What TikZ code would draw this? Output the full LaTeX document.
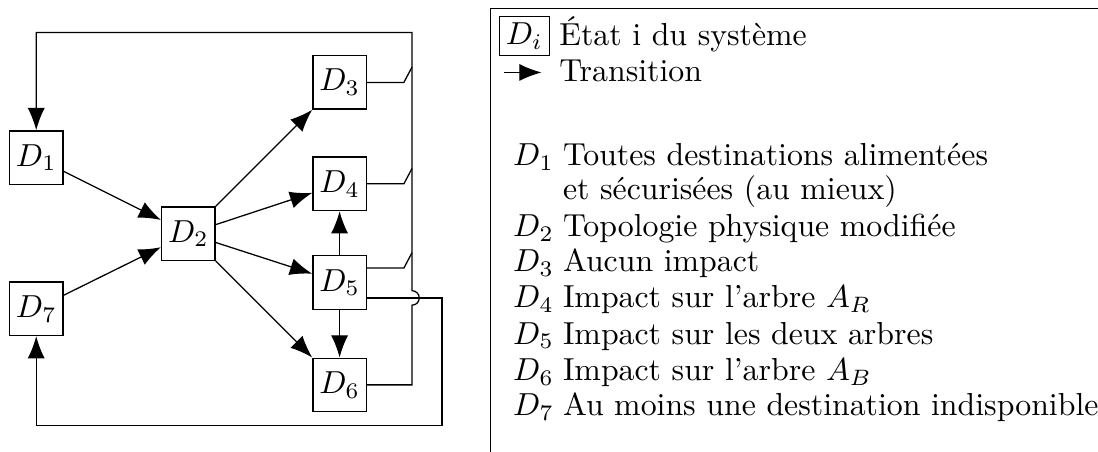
\documentclass[tikz,border=0pt]{standalone}
\usepackage{fontspec}
\usetikzlibrary{arrows.meta}

\begin{document}
\begin{tikzpicture}[
	state/.style={draw, minimum size=0.59cm, inner sep=1pt},
	trans/.style={-{Latex[length=7pt,width=5.4pt]}},
	keytext/.style={anchor=base west, inner sep=0pt}
]
\useasboundingbox (0,0) rectangle (12.125,-4.991);

%states
\node[state] (d1) at (0.40,-1.74) {$D_1$};
\node[state] (d2) at (2.08,-2.58) {$D_2$};
\node[state] (d7) at (0.40,-3.41) {$D_7$};
\node[state] (d3) at (3.75,-0.91) {$D_3$};
\node[state] (d4) at (3.75,-2.03) {$D_4$};
\node[state] (d5) at (3.75,-3.12) {$D_5$};
\node[state] (d6) at (3.75,-4.25) {$D_6$};

\coordinate (bus) at (4.55,-0.36);
\coordinate (loop) at (4.88,-4.70);

%transitions
\draw[trans] (d1) -- (d2);
\draw[trans] (d7) -- (d2);
\foreach \n in {3,...,6} {
	\draw[trans] (d2) -- (d\n);
}
\draw[trans] (d5) -- (d4);
\draw[trans] (d5) -- (d6);

%back to D1
\draw[trans] (d6.east) -| ([yshift=-0.25cm]d5.east -| bus) arc (-90:90:0.08) -- (bus) -| (d1.north);
\draw (d3.east) -- ([xshift=-0.09cm]d3.east -| bus) -- ([yshift=0.17cm]d3.east -| bus);
\draw (d4.east) -- ([xshift=-0.09cm]d4.east -| bus) -- ([yshift=0.17cm]d4.east -| bus);
\draw ([yshift=0.16cm]d5.east) -- ([xshift=-0.09cm,yshift=0.16cm]d5.east -| bus) -- ([yshift=0.33cm]d5.east -| bus);

%back to D7
\draw[trans] ([yshift=-0.17cm]d5.east) -| (loop) -| (d7.south);

%legend
\draw (5.42,-0.09) rectangle (12.8,-5.5);
\node[draw, inner sep=2pt] (keybox) at (5.79,-0.40) {$D_i$};
\node[keytext] (keystate) at (6.17,-0.50) {État i du système};
\coordinate (keya) at (5.57,-0.80);
\coordinate (keyb) at (5.98,-0.80);
\draw[trans] (keya) -- (keyb);
\node[keytext] (keytrans) at (6.17,-0.90) {Transition};

\foreach \i/\y/\txt in {1/-1.83/{Toutes destinations alimentées},
	2/-2.61/{Topologie physique modifiée},
	3/-3.00/{Aucun impact},
	4/-3.40/{Impact sur l'arbre $A_R$},
	5/-3.80/{Impact sur les deux arbres},
	6/-4.20/{Impact sur l'arbre $A_B$},
	7/-4.59/{Au moins une destination indisponible}} {
	\node[keytext] (lab\i) at (5.66,\y) {$D_\i$};
	\node[keytext] (txt\i) at (6.21,\y) {\txt};
}
\node[keytext] (txt1b) at (6.21,-2.20) {et sécurisées (au mieux)};
\end{tikzpicture}
\end{document}
